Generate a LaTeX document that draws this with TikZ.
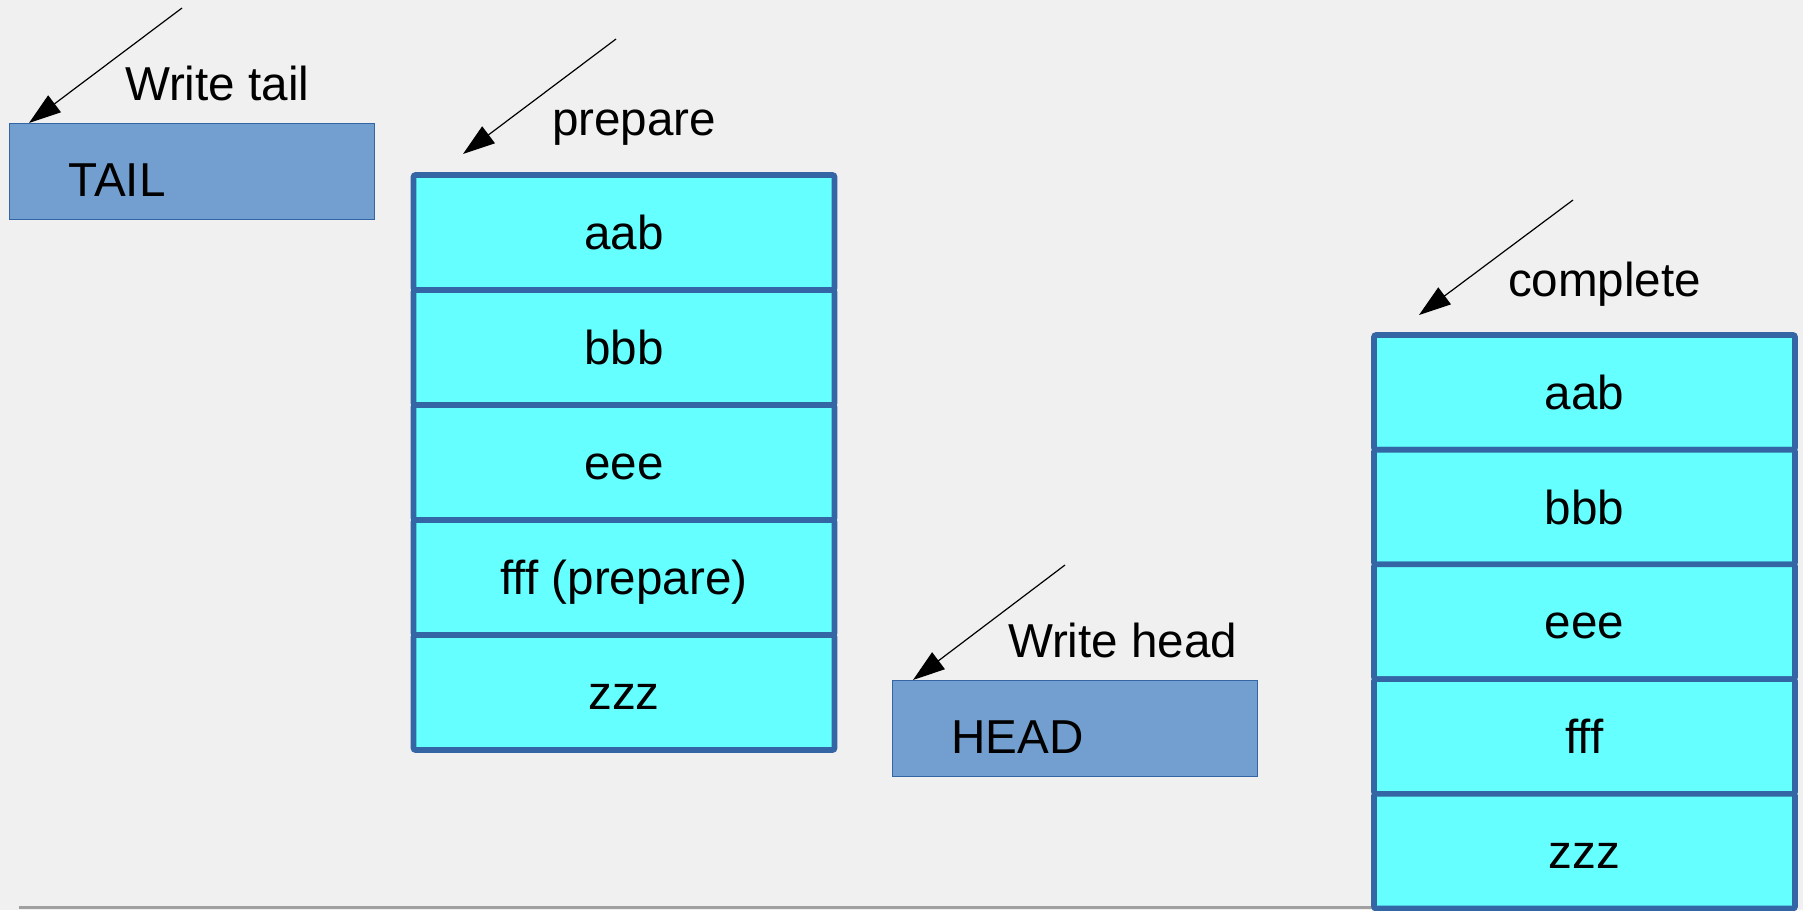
\documentclass[tikz,border=0pt]{standalone}
\usepackage{fontspec}
\setmainfont{Liberation Sans}
\usetikzlibrary{arrows.meta}

\definecolor{pagebg}{HTML}{F0F0F0}
\definecolor{ptrfill}{HTML}{729FCF}
\definecolor{edgeblue}{HTML}{3465A4}
\definecolor{cellcyan}{HTML}{66FFFF}
\definecolor{rulegray}{HTML}{A0A0A0}

\tikzset{
  txt/.style={font=\fontsize{23.8}{28}\selectfont, inner sep=0pt, outer sep=0pt},
  ptrbox/.style={txt, draw=edgeblue, fill=ptrfill, line width=0.5pt,
    minimum width=182.5pt, minimum height=48pt, anchor=north west,
    align=left, text width=123pt, inner xsep=29.5pt,
    text height=25pt, text depth=0pt},
  cell/.style={txt, draw=edgeblue, fill=cellcyan, line width=2.8pt,
    rounded corners=1pt, minimum width=210.5pt, anchor=north west,
    text height=17pt, text depth=0pt},
  caption/.style={txt, anchor=base west},
  pointer/.style={line width=0.6pt, -{Triangle[length=16pt,width=10.5pt]}},
}

\begin{document}
\begin{tikzpicture}[x=0.5pt, y=-0.5pt]
  % page
  \fill[pagebg] (0,0) rectangle (1803,910);
  \useasboundingbox (0,0) rectangle (1803,910);

  % baseline rule at the bottom
  \coordinate (ruleL) at (19,907.5);
  \coordinate (ruleR) at (1374,907.5);
  \draw[rulegray, line width=1.2pt] (ruleL) -- (ruleR);

  % tail pointer
  \node[ptrbox] (tail) at (9,123) {TAIL};
  \node[caption] (tailcap) at (125,100) {Write tail};
  \coordinate (tailsrc) at (182,8);
  \coordinate (tailtip) at ([xshift=10pt]tail.north west);
  \draw[pointer] (tailsrc) -- (tailtip);

  % head pointer
  \node[ptrbox] (head) at (892,680) {HEAD};
  \node[caption] (headcap) at (1008,657) {Write head};
  \coordinate (headsrc) at (1065,565);
  \coordinate (headtip) at ([xshift=10.5pt]head.north west);
  \draw[pointer] (headsrc) -- (headtip);

  % prepared column
  \foreach \t [count=\i] in {aab, bbb, eee, fff (prepare), zzz}{
    \node[cell, minimum height=57.5pt] (p\i) at (413.5,{175+115*(\i-1)}) {\t};
  }
  \node[caption] (prepcap) at (552,135) {prepare};
  \coordinate (prepsrc) at (616,39);
  \coordinate (preptip) at ([xshift=24.75pt,yshift=10.5pt]p1.north west);
  \draw[pointer] (prepsrc) -- (preptip);

  % completed column
  \foreach \t [count=\i] in {aab, bbb, eee, fff, zzz}{
    \node[cell, minimum height=57.35pt] (c\i) at (1374,{335+114.7*(\i-1)}) {\t};
  }
  \node[caption] (compcap) at (1508,296) {complete};
  \coordinate (compsrc) at (1573,200);
  \coordinate (comptip) at ([xshift=22.5pt,yshift=10pt]c1.north west);
  \draw[pointer] (compsrc) -- (comptip);
\end{tikzpicture}
\end{document}
